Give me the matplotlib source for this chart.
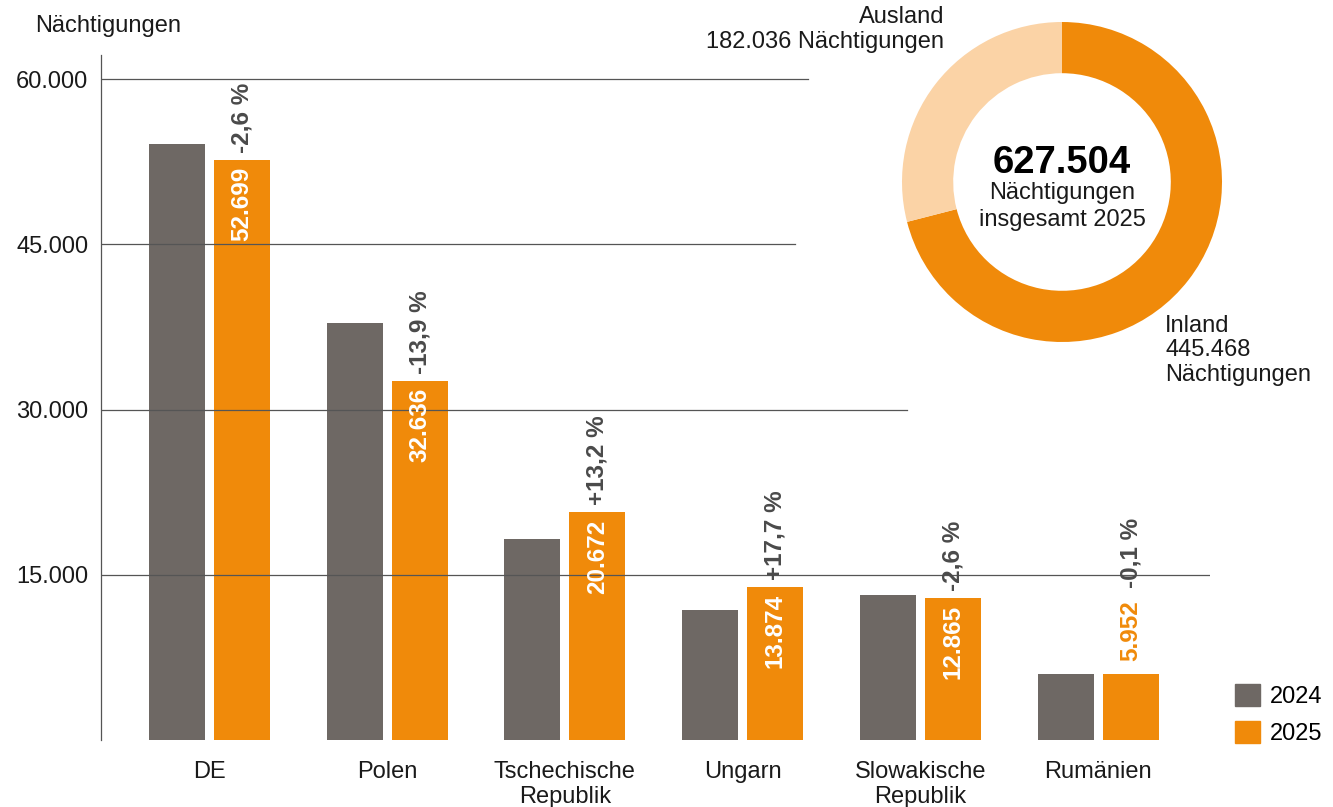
import matplotlib
matplotlib.use("Agg")
import matplotlib.pyplot as plt
from matplotlib.patches import Patch
import numpy as np

plt.rcParams['font.family'] = ['Liberation Sans', 'DejaVu Sans']

# data
laender = ["DE", "Polen", "Tschechische\nRepublik", "Ungarn", "Slowakische\nRepublik", "Rumänien"]
werte_2024 = [54100, 37905, 18262, 11788, 13208, 5958]
werte_2025 = [52699, 32636, 20672, 13874, 12865, 5952]
wert_labels = ["52.699", "32.636", "20.672", "13.874", "12.865", "5.952"]
veraenderung = ["-2,6 %", "-13,9 %", "+13,2 %", "+17,7 %", "-2,6 %", "-0,1 %"]
y_ticks = [15000, 30000, 45000, 60000]
y_ticklabels = ["15.000", "30.000", "45.000", "60.000"]
grid_ends = [1.0, 0.727, 0.626, 0.6375]   # gridlines stop before the donut

donut_labels = ["Inland", "Ausland"]
donut_werte = [445468, 182036]
gesamt = "627.504"

grau = "#6e6864"
orange = "#f08a0a"
hell = "#fbd3a6"
textfarbe = "#1a1a1a"
prozentfarbe = "#4a4a4a"

fs = 17
fs_b = 17.5

W, H = 1333, 807
fig = plt.figure(figsize=(W / 100, H / 100), dpi=100)
ax = fig.add_axes([101 / W, (H - 740) / H, 1109 / W, 685 / H])

x = np.arange(len(laender))
breite = 0.315
off = 0.183
ax.bar(x - off, werte_2024, breite, color=grau, zorder=2, label="2024")
ax.bar(x + off, werte_2025, breite, color=orange, zorder=2, label="2025")

for yv, end in zip(y_ticks, grid_ends):
    ax.axhline(yv, xmin=0, xmax=end, color="#555555", lw=0.9, zorder=3)

ax.set_xlim(-0.61, 5.63)
ax.set_ylim(0, 62200)
ax.set_yticks(y_ticks)
ax.set_yticklabels(y_ticklabels)
ax.set_xticks(x)
ax.set_xticklabels(laender)
ax.tick_params(axis="both", length=0, labelsize=fs, colors=textfarbe)
ax.tick_params(axis="y", pad=9)
ax.tick_params(axis="x", pad=15)
for s in ["top", "right", "bottom"]:
    ax.spines[s].set_visible(False)
ax.spines["left"].set_color("#555555")
ax.spines["left"].set_linewidth(0.9)

for i, v in enumerate(werte_2025):
    if v > 10000:
        ax.annotate(wert_labels[i], (x[i] + off, v), xytext=(0, -5), textcoords="offset points",
                    rotation=90, ha="center", va="top", color="white", fontsize=fs_b,
                    fontweight="bold", zorder=4)
        ax.annotate(veraenderung[i], (x[i] + off, v), xytext=(0, 5), textcoords="offset points",
                    rotation=90, ha="center", va="bottom", color=prozentfarbe, fontsize=fs_b,
                    fontweight="bold", zorder=4)
    else:
        ax.annotate(wert_labels[i], (x[i] + off, v), xytext=(0, 10), textcoords="offset points",
                    rotation=90, ha="center", va="bottom", color=orange, fontsize=fs_b,
                    fontweight="bold", zorder=4)
        ax.annotate(veraenderung[i], (x[i] + off, v), xytext=(0, 62), textcoords="offset points",
                    rotation=90, ha="center", va="bottom", color=prozentfarbe, fontsize=fs_b,
                    fontweight="bold", zorder=4)

fig.text(35 / W, 1 - 26 / H, "Nächtigungen", fontsize=fs, color=textfarbe, va="center")

# legend
handles = [Patch(color=grau), Patch(color=orange)]
fig.legend(handles, ["2024", "2025"], loc="lower left", bbox_to_anchor=(1223 / W, 50 / H),
           frameon=False, fontsize=fs, handlelength=1.05, handleheight=1.05,
           handletextpad=0.45, labelspacing=0.55, borderpad=0)

# donut
dax = fig.add_axes([902 / W, (H - 342) / H, 320 / W, 320 / H])
dax.pie(donut_werte, colors=[orange, hell], startangle=90, counterclock=False,
        radius=1, wedgeprops=dict(width=0.32, linewidth=0))
dax.set_xlim(-1, 1)
dax.set_ylim(-1, 1)
dax.set_aspect("equal")
dax.axis("off")
dax.text(0, 0.12, gesamt, ha="center", va="center", fontsize=27.5, fontweight="bold", color="black")
dax.text(0, -0.07, "Nächtigungen", ha="center", va="center", fontsize=fs, color=textfarbe)
dax.text(0, -0.24, "insgesamt 2025", ha="center", va="center", fontsize=fs, color=textfarbe)

fig.text(944 / W, 1 - 17 / H, donut_labels[1], ha="right", va="center", fontsize=fs, color=textfarbe)
fig.text(944 / W, 1 - 42 / H, "182.036 Nächtigungen", ha="right", va="center", fontsize=fs, color=textfarbe)
fig.text(1165 / W, 1 - 326 / H, donut_labels[0], ha="left", va="center", fontsize=fs, color=textfarbe)
fig.text(1165 / W, 1 - 350 / H, "445.468", ha="left", va="center", fontsize=fs, color=textfarbe)
fig.text(1165 / W, 1 - 375 / H, "Nächtigungen", ha="left", va="center", fontsize=fs, color=textfarbe)

plt.savefig("out.png", dpi=100)
